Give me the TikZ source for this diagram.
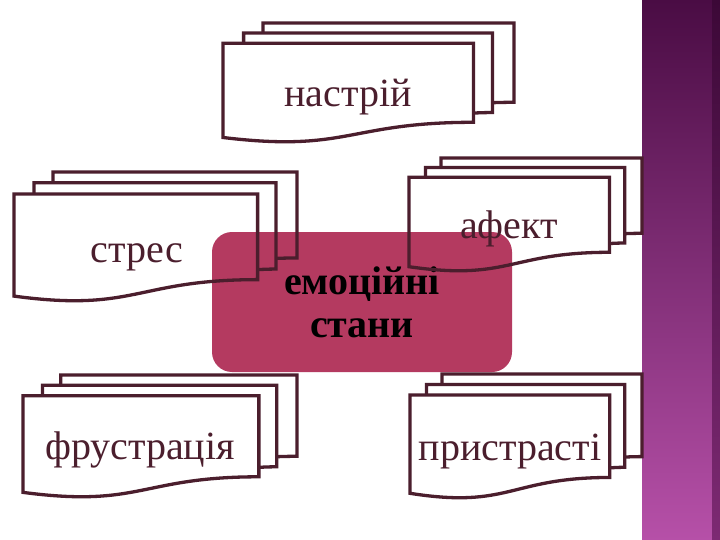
\documentclass[tikz,border=0pt]{standalone}
\usepackage{fontspec}
\setmainfont{Liberation Serif}

\definecolor{docline}{RGB}{75,30,45}
\definecolor{hubfill}{RGB}{180,58,96}
\definecolor{bandtop}{RGB}{74,12,68}
\definecolor{bandmid}{RGB}{135,50,125}
\definecolor{bandbot}{RGB}{182,80,168}
\definecolor{edgetop}{RGB}{60,8,55}
\definecolor{edgebot}{RGB}{125,42,115}

\tikzset{
  pagefill/.style={fill=white},
  pageline/.style={draw=docline, line width=3.3pt},
  doclabel/.style={text=docline, font=\fontsize{40}{48}\selectfont, anchor=base, inner sep=0pt},
  hub/.style={fill=hubfill, rounded corners=20pt, minimum width=300pt, minimum height=140pt,
    inner sep=0pt, align=center, font=\fontsize{40}{43}\selectfont\bfseries}
}

% three stacked pages: x, y, width, height, style
\newcommand{\docstack}[5]{%
  \begin{scope}[shift={(#1,#2)}, x=#3pt, y=-#4pt]
    \path[#5] (0.1376,0.0840) -- (0.1376,0) -- (1,0) -- (1,0.6663)
      .. controls (0.9630,0.6663) and (0.9259,0.6698) .. (0.9259,0.6698);
    \path[#5] (0.0709,0.1701) -- (0.0709,0.0840) -- (0.9259,0.0840) -- (0.9259,0.7524)
      .. controls (0.8934,0.7524) and (0.8609,0.7570) .. (0.8609,0.7570);
    \path[#5] (0,0.9621) .. controls (0.4305,1.0899) and (0.4305,0.8344) .. (0.8609,0.8344)
      -- (0.8609,0.1701) -- (0,0.1701) -- cycle;
  \end{scope}}

\begin{document}
\begin{tikzpicture}[x=1pt,y=-1pt]
  \fill[white] (0,0) rectangle (720,540);
  \useasboundingbox (0,0) rectangle (720,540);
  % side band
  \shade[top color=bandtop, middle color=bandmid, bottom color=bandbot] (642,0) rectangle (720,540);
  \shade[top color=edgetop, bottom color=edgebot] (712,0) rectangle (720,540);

  % white pages
  \docstack{223}{23}{291}{119}{pagefill}
  \docstack{14}{172}{283}{129}{pagefill}
  \docstack{409}{158}{233}{113}{pagefill}
  \docstack{23}{375}{274}{122}{pagefill}
  \docstack{410}{374}{232}{124}{pagefill}

  \node[hub] (emocii) at (362,302) {емоційні\\стани};

  % outlines
  \docstack{223}{23}{291}{119}{pageline}
  \docstack{14}{172}{283}{129}{pageline}
  \docstack{409}{158}{233}{113}{pageline}
  \docstack{23}{375}{274}{122}{pageline}
  \docstack{410}{374}{232}{124}{pageline}

  \node[doclabel] (nastrij) at (348,107) {настрій};
  \node[doclabel] (stres) at (137,262) {стрес};
  \node[doclabel] (afekt) at (509,238) {афект};
  \node[doclabel] (frustr) at (140,459) {фрустрація};
  \node[doclabel] (prystr) at (510,460) {пристрасті};
\end{tikzpicture}
\end{document}
